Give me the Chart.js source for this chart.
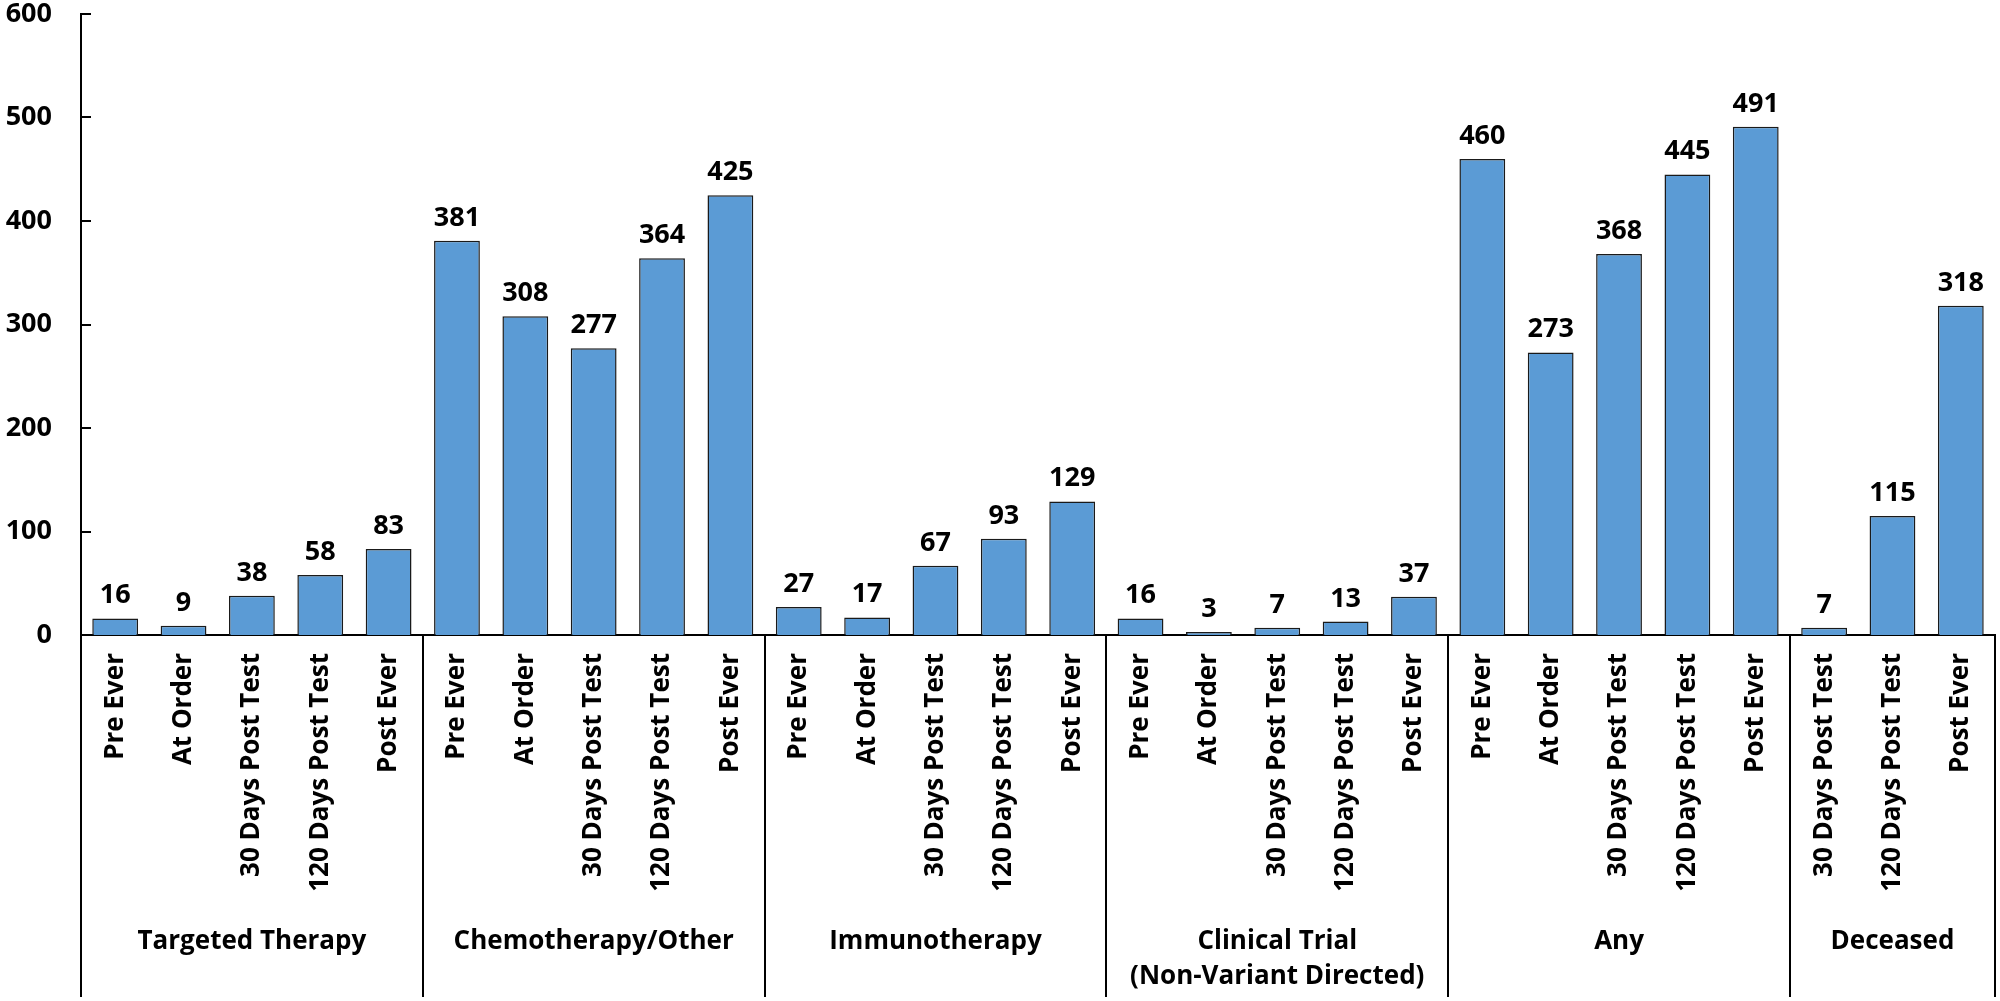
<!DOCTYPE html>
<html>
<head>
<meta charset="utf-8">
<script src="https://cdn.jsdelivr.net/npm/chart.js@4.4.1/dist/chart.umd.min.js"></script>
<style>
  html, body { margin: 0; padding: 0; background: #fff; }
  canvas { display: block; }
</style>
</head>
<body>
<canvas id="chart" width="2000" height="1001"></canvas>
<script>
// group names and how many bars sit under each
const groups = ['Targeted Therapy', 'Chemotherapy/Other', 'Immunotherapy', ['Clinical Trial', '(Non-Variant Directed)'], 'Any', 'Deceased'];
const groupSizes = [5, 5, 5, 5, 5, 3];

const timepoints = [
  'Pre Ever', 'At Order', '30 Days Post Test', '120 Days Post Test', 'Post Ever',
  'Pre Ever', 'At Order', '30 Days Post Test', '120 Days Post Test', 'Post Ever',
  'Pre Ever', 'At Order', '30 Days Post Test', '120 Days Post Test', 'Post Ever',
  'Pre Ever', 'At Order', '30 Days Post Test', '120 Days Post Test', 'Post Ever',
  'Pre Ever', 'At Order', '30 Days Post Test', '120 Days Post Test', 'Post Ever',
  '30 Days Post Test', '120 Days Post Test', 'Post Ever'
];

const counts = [
  16, 9, 38, 58, 83,
  381, 308, 277, 364, 425,
  27, 17, 67, 93, 129,
  16, 3, 7, 13, 37,
  460, 273, 368, 445, 491,
  7, 115, 318
];

const yTicks = [0, 100, 200, 300, 400, 500, 600];

const FONT = '"Open Sans", Lato, sans-serif';

// value labels, inside tick marks, group dividers and group names
const decorations = {
    id: 'decorations',
    afterDatasetsDraw(chart) {
        const ctx = chart.ctx;
        const area = chart.chartArea;
        const x = chart.scales.x;
        const y = chart.scales.y;
        const meta = chart.getDatasetMeta(0);

        ctx.save();
        ctx.fillStyle = '#000';
        ctx.font = 'bold 27px ' + FONT;
        ctx.textAlign = 'center';
        ctx.textBaseline = 'alphabetic';
        meta.data.forEach((bar, i) => {
            ctx.fillText(String(counts[i]), bar.x, bar.y - 15);
        });

        // Excel style tick marks pointing into the plot
        ctx.strokeStyle = '#000';
        ctx.lineWidth = 2;
        yTicks.forEach(v => {
            const py = Math.round(y.getPixelForValue(v));
            ctx.beginPath();
            ctx.moveTo(area.left, py);
            ctx.lineTo(area.left + 10, py);
            ctx.stroke();
        });

        // dividers below the axis
        const bottom = chart.height - 4;
        const edges = [area.left];
        let idx = 0;
        groupSizes.forEach((n, g) => {
            idx += n;
            if (g < groupSizes.length - 1) {
                edges.push((x.getPixelForTick(idx - 1) + x.getPixelForTick(idx)) / 2);
            }
        });
        edges.push(area.right);
        ctx.lineWidth = 2;
        edges.forEach(ex => {
            ctx.beginPath();
            ctx.moveTo(Math.round(ex), area.bottom);
            ctx.lineTo(Math.round(ex), bottom);
            ctx.stroke();
        });

        // group names
        ctx.font = 'bold 26px ' + FONT;
        ctx.textBaseline = 'middle';
        groups.forEach((name, g) => {
            const cx = (edges[g] + edges[g + 1]) / 2;
            const lines = Array.isArray(name) ? name : [name];
            lines.forEach((line, k) => {
                ctx.fillText(line, cx, 942 + k * 35);
            });
        });
        ctx.restore();
    }
};

function noPadding(scale) {
    scale.paddingTop = 0;
    scale.paddingBottom = 0;
    scale.paddingLeft = 0;
    scale.paddingRight = 0;
}

new Chart(document.getElementById('chart'), {
    type: 'bar',
    data: {
        labels: timepoints,
        datasets: [{
            data: counts,
            backgroundColor: '#5B9BD5',
            borderColor: '#1a1a1a',
            borderWidth: 1.5,
            categoryPercentage: 1,
            barPercentage: 0.67
        }]
    },
    options: {
        responsive: false,
        devicePixelRatio: 1,
        animation: false,
        layout: {
            padding: { top: 14, right: 5, left: 0, bottom: 0 }
        },
        plugins: {
            legend: { display: false },
            tooltip: { enabled: false }
        },
        scales: {
            x: {
                grid: { display: false, drawTicks: false },
                border: { display: true, color: '#000', width: 2 },
                ticks: {
                    color: '#000',
                    font: { family: FONT, size: 26, weight: 'bold' },
                    minRotation: 90,
                    maxRotation: 90,
                    autoSkip: false,
                    padding: 18
                },
                afterFit(scale) { scale.height = 366; noPadding(scale); }
            },
            y: {
                min: 0,
                max: 600,
                grid: { display: false, drawTicks: false },
                border: { display: true, color: '#000', width: 2 },
                ticks: {
                    stepSize: 100,
                    color: '#000',
                    font: { family: FONT, size: 27, weight: 'bold' },
                    padding: 29
                },
                afterFit(scale) { scale.width = 81; noPadding(scale); }
            }
        }
    },
    plugins: [decorations]
});
</script>
</body>
</html>
